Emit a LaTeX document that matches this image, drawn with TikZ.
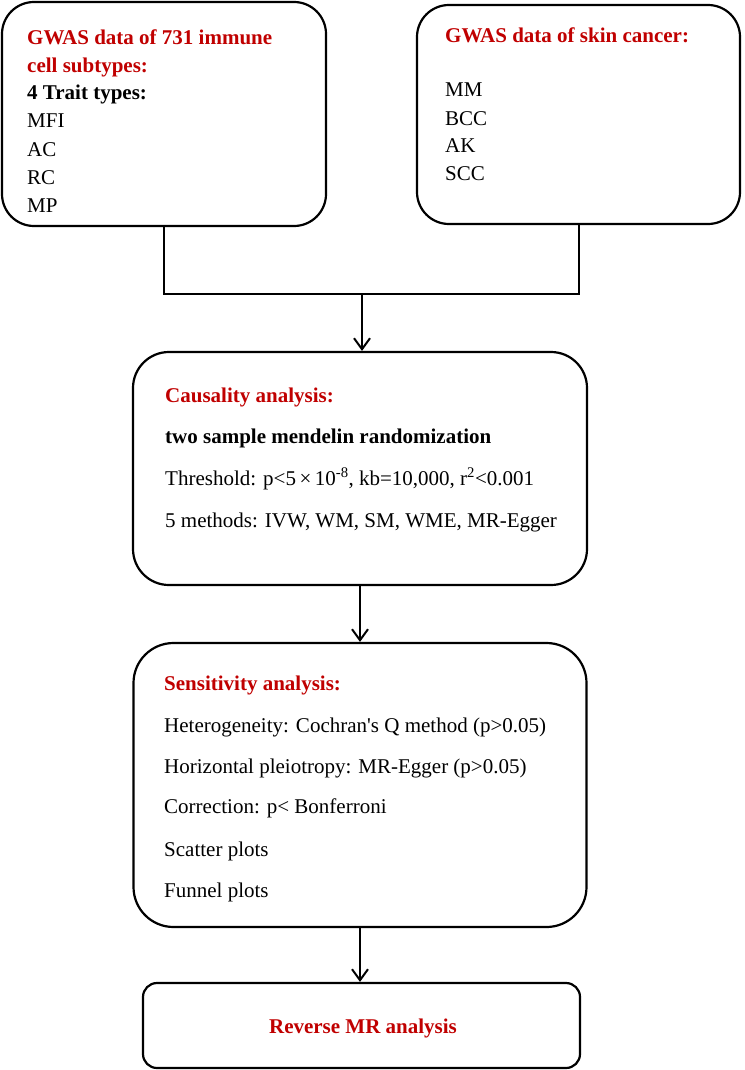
\documentclass[tikz,border=0pt]{standalone}
\usepackage{fontspec}
\setmainfont{Liberation Serif}
\usetikzlibrary{arrows.meta}
\definecolor{titlered}{RGB}{192,0,0}
\begin{document}
\begin{tikzpicture}[x=1pt,y=-1pt,
  box/.style={draw=black,line width=2.2pt,rounded corners=#1,inner sep=0pt},
  box/.default=32pt,
  txt/.style={anchor=base west,inner sep=0pt,font=\fontsize{21}{25}\selectfont},
  ttl/.style={txt,text=titlered,font=\fontsize{21}{25}\selectfont\bfseries},
  conn/.style={line width=2pt},
  arr/.style={line width=2pt,-{Straight Barb[length=11pt,width=16pt,line width=2pt]}}]
\useasboundingbox (0,0) rectangle (744,1070);
% boxes
\node[box,minimum width=324pt,minimum height=224pt] (b1) at (164,114) {};
\node[box,minimum width=323pt,minimum height=219pt] (b2) at (578.5,114.5) {};
\node[box=36pt,minimum width=454pt,minimum height=233pt] (b3) at (360,468.5) {};
\node[box=40pt,minimum width=453pt,minimum height=284pt] (b4) at (360,785) {};
\node[box=14pt,minimum width=437pt,minimum height=85pt] (b5) at (361.5,1025.5) {};
% box 1 text
\node[ttl] (t11) at (27,45) {GWAS data of 731 immune};
\node[ttl] (t12) at (27,73) {cell subtypes:};
\node[txt,font=\fontsize{21}{25}\selectfont\bfseries] (t13) at (27,100) {4 Trait types:};
\node[txt] (t14) at (27,128) {MFI};
\node[txt] (t15) at (27,156) {AC};
\node[txt] (t16) at (27,184) {RC};
\node[txt] (t17) at (27,212) {MP};
% box 2 text
\node[ttl] (t21) at (445,43) {GWAS data of skin cancer:};
\node[txt] (t22) at (445,97) {MM};
\node[txt] (t23) at (445,125) {BCC};
\node[txt] (t24) at (445,153) {AK};
\node[txt] (t25) at (445,180) {SCC};
% box 3 text
\node[ttl] (t31) at (165,402) {Causality analysis:};
\node[txt,font=\fontsize{21}{25}\selectfont\bfseries] (t32) at (165,443) {two sample mendelin randomization};
\node[txt] (t33) at (165,485) {Threshold: p<5\,×\,10\textsuperscript{-8}, kb=10,000, r\textsuperscript{2}<0.001};
\node[txt] (t34) at (165,527) {5 methods: IVW, WM, SM, WME, MR-Egger};
% box 4 text
\node[ttl] (t41) at (164,690) {Sensitivity analysis:};
\node[txt] (t42) at (164,732) {Heterogeneity: Cochran\textquotesingle s Q method (p>0.05)};
\node[txt] (t43) at (164,773) {Horizontal pleiotropy: MR-Egger (p>0.05)};
\node[txt] (t44) at (164,813) {Correction: p< Bonferroni};
\node[txt] (t45) at (164,856) {Scatter plots};
\node[txt] (t46) at (164,897) {Funnel plots};
% box 5 text
\node[ttl,anchor=base] (t51) at (363,1033) {Reverse MR analysis};
% connectors
\coordinate (j) at (362,294);
\draw[conn] (b1.south) |- (j) -| (b2.south);
\draw[arr] (j) -- (j |- b3.north);
\draw[arr] (b3.south) -- (b4.north);
\draw[arr] (b4.south) -- (b4.south |- b5.north);
\end{tikzpicture}
\end{document}
